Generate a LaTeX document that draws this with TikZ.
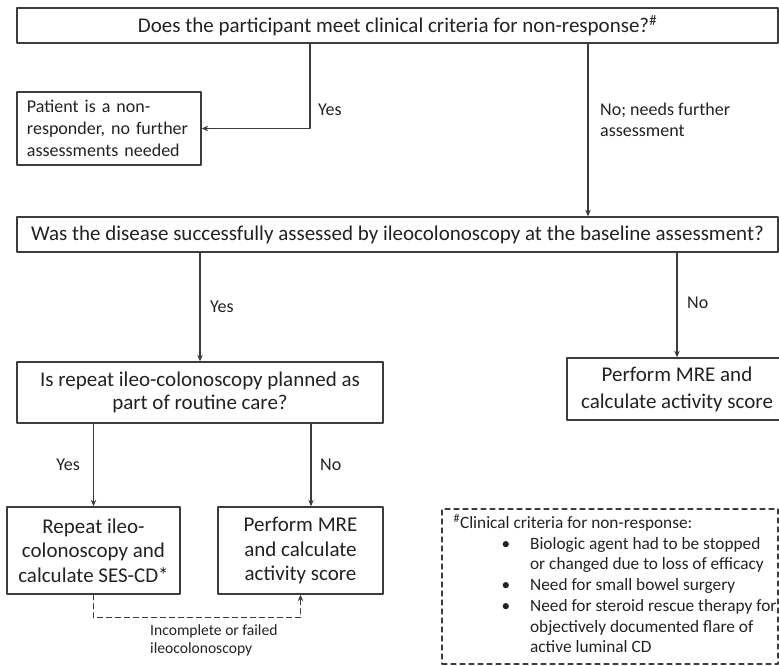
\documentclass[tikz,border=0pt]{standalone}
\usepackage{fontspec}
\setmainfont{Carlito}
\usetikzlibrary{arrows.meta}
\definecolor{linegray}{HTML}{3C3C3C}
\definecolor{textgray}{HTML}{222222}
\newcommand{\fsz}[2]{\fontsize{#1pt}{#2pt}\selectfont}
\begin{document}
\begin{tikzpicture}[x=1pt, y=-1pt, line cap=round, line join=round, >={Stealth[length=6.5pt,width=5.5pt]},
  every node/.style={text=textgray},
  box/.style={draw=linegray, line width=1.4pt, inner sep=0pt, align=center, font=\fsz{21}{25}},
  arr/.style={draw=linegray, line width=1.3pt, ->},
  lbl/.style={font=\fsz{18}{20}, inner sep=0pt, anchor=west, align=left}]
\useasboundingbox (0,0) rectangle (779,666);

\node[box, minimum width=761pt, minimum height=35pt] (q1) at (397.5,25.5) {Does the participant meet clinical criteria for non-response?\textsuperscript{\#}};
\node[box, minimum width=184pt, minimum height=73pt, text width=164pt, align=left, font=\fsz{18}{22}] (patient) at (109,128.5) {Patient is a non-\\responder, no further\\assessments needed};
\node[box, minimum width=761pt, minimum height=35pt] (q2) at (397.5,234.5) {Was the disease successfully assessed by ileocolonoscopy at the baseline assessment?};
\node[box, minimum width=366pt, minimum height=61pt, font=\fsz{21}{23}] (q3) at (200,392.5) {Is repeat ileo-colonoscopy planned as\\part of routine care?};
\node[box, minimum width=220pt, minimum height=62pt, font=\fsz{21}{27}] (mre1) at (677,389) {Perform MRE and\\calculate activity score};
\node[box, minimum width=173pt, minimum height=87pt, font=\fsz{21}{24.5}] (rep) at (93.5,550.5) {Repeat ileo-\\colonoscopy and\\calculate SES-CD*};
\node[box, minimum width=165pt, minimum height=87pt, font=\fsz{21}{24.5}] (mre2) at (300.5,550.5) {Perform MRE\\and calculate\\activity score};
\node[box, dashed, dash pattern=on 5pt off 4pt, line width=1.3pt, minimum width=336pt, minimum height=155pt, font=\fsz{17.3}{20.7}] (crit) at (610,586.5) {%
\begin{tabular}{@{\hspace{10pt}}l@{\hspace{20pt}}l@{}}
\multicolumn{2}{@{\hspace{10pt}}l@{}}{\textsuperscript{\#}Clinical criteria for non-response:}\\
\hspace{48pt}\textbullet & Biologic agent had to be stopped\\
 & or changed due to loss of efficacy\\
\hspace{48pt}\textbullet & Need for small bowel surgery\\
\hspace{48pt}\textbullet & Need for steroid rescue therapy for\\
 & objectively documented flare of\\
 & active luminal CD
\end{tabular}};

\coordinate (yesx) at (310,0);
\coordinate (nox) at (588,0);
\coordinate (q3nox) at (311,0);
\draw[arr] (q1.south -| yesx) |- (patient.east);
\draw[arr] (q1.south -| nox) -- (q2.north -| nox);
\draw[arr] (q2.south -| q3.north) -- (q3.north);
\draw[arr] (q2.south -| mre1.north) -- (mre1.north);
\draw[arr] (q3.south -| rep.north) -- (rep.north);
\draw[arr] (q3.south -| q3nox) -- (mre2.north -| q3nox);
\draw[arr, dashed, dash pattern=on 5pt off 4pt] (rep.south) -- ++(0,23) -| (mre2.south);

\node[lbl] (yes1) at (318,110) {Yes};
\node[lbl, font=\fsz{18}{21}] (no1) at (600,120) {No; needs further\\assessment};
\node[lbl] (yes2) at (210,307) {Yes};
\node[lbl] (no2) at (687,303) {No};
\node[lbl, anchor=east] (yes3) at (80,465) {Yes};
\node[lbl] (no3) at (320,465) {No};
\node[lbl, font=\fsz{15.6}{18}] (fail) at (150,640) {Incomplete or failed\\ileocolonoscopy};
\end{tikzpicture}
\end{document}
